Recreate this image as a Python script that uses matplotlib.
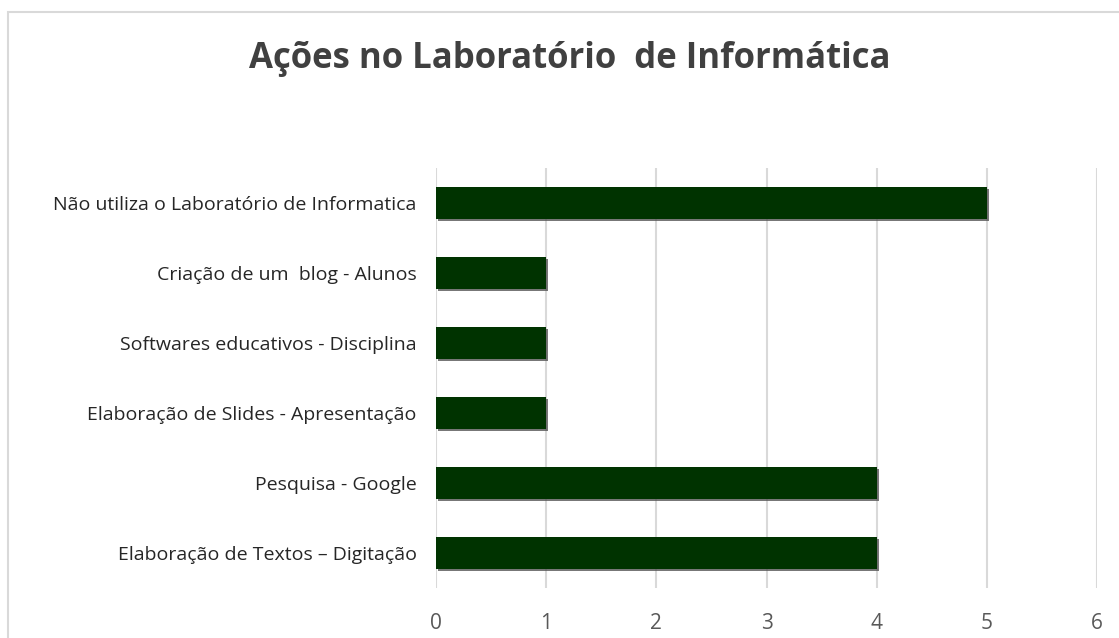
import matplotlib.pyplot as plt
import matplotlib.patheffects as pe
from matplotlib.patches import Rectangle

plt.rcParams['font.family'] = ['Open Sans', 'DejaVu Sans']

categorias = [
    'Elaboração de Textos – Digitação',
    'Pesquisa - Google',
    'Elaboração de Slides - Apresentação',
    'Softwares educativos - Disciplina',
    'Criação de um  blog - Alunos',
    'Não utiliza o Laboratório de Informatica',
]
valores = [4, 4, 1, 1, 1, 5]
ticks_x = [0, 1, 2, 3, 4, 5, 6]

fig = plt.figure(figsize=(11.19, 6.38), dpi=100)
ax = fig.add_axes([436 / 1119, 1 - 588 / 638, (1097 - 436) / 1119, (588 - 168) / 638])

# moldura do grafico
fig.patches.append(Rectangle((8 / 1119, -0.05), 1.1, 1 - 12 / 638 + 0.05,
                             transform=fig.transFigure, fill=False,
                             edgecolor='#d9d9d9', linewidth=1.5))

barras = ax.barh(range(len(categorias)), valores, height=0.45, color='#003300', zorder=3)
for b in barras:
    b.set_path_effects([pe.SimplePatchShadow(offset=(1.5, -1.5), shadow_rgbFace='#555555', alpha=0.8),
                        pe.Normal()])

ax.set_xlim(0, 6)
ax.set_ylim(-0.5, len(categorias) - 0.5)
ax.set_xticks(ticks_x)
ax.set_yticks(range(len(categorias)))
ax.set_yticklabels(categorias)
ax.grid(axis='x', color='#d9d9d9', linewidth=1.5, zorder=0)
for s in ax.spines.values():
    s.set_visible(False)
ax.tick_params(axis='both', length=0, labelsize=14)
ax.tick_params(axis='y', pad=14, labelcolor='#262626')
ax.tick_params(axis='x', pad=18, labelsize=15, labelcolor='#595959')

fig.text(570 / 1119, 1 - 68 / 638, 'Ações no Laboratório  de Informática', ha='center', va='baseline',
         fontsize=25, fontweight='bold', color='#404040')

fig.savefig('out.png', dpi=100)
